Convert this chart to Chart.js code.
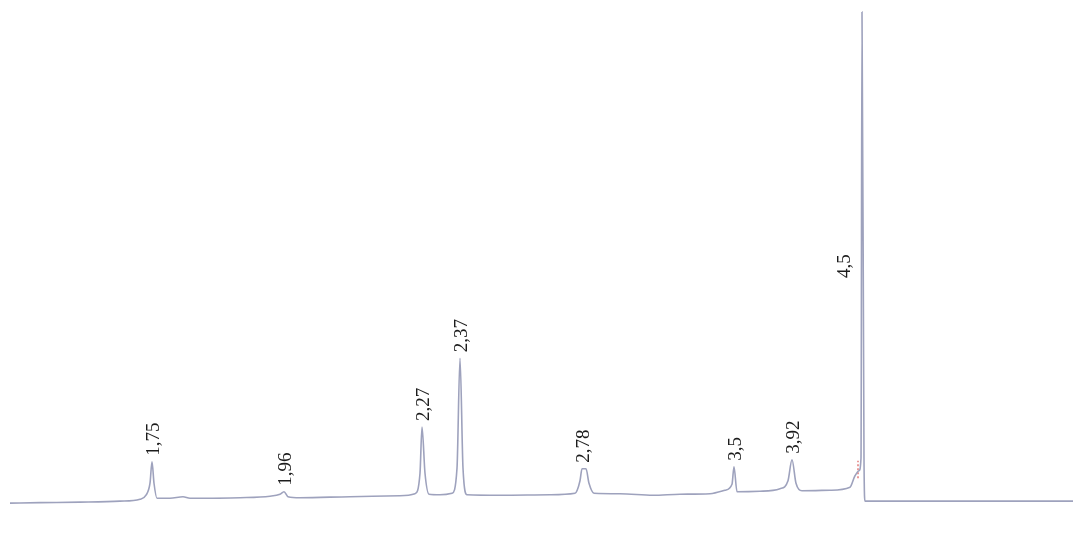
<!DOCTYPE html>
<html>
<head>
<meta charset="utf-8">
<script src="https://cdn.jsdelivr.net/npm/chart.js@4.4.0/dist/chart.umd.min.js"></script>
<style>
    html, body { margin: 0; padding: 0; background: #ffffff; }
    #wrap { width: 1087px; height: 548px; }
</style>
</head>
<body>
<div id="wrap"><canvas id="chromatogramChart" width="1087" height="548"></canvas></div>
<script>
// Trace data (retention position, detector response)
const tracePosition = [1.0, 4.0, 8.0, 12.0, 14.0, 14.6, 15.0, 15.2, 15.4, 15.7, 17.0, 18.3, 19.0, 24.0, 27.0, 28.0, 28.4, 28.8,
    30.0, 35.0, 40.0, 41.5, 42.0, 42.2, 42.5, 42.9, 44.0, 45.2, 45.7, 46.0, 46.3, 46.7, 50.0, 55.0, 57.5, 58.0, 58.2, 58.6,
    58.9, 59.4, 62.0, 65.3, 68.0, 71.0, 72.5, 73.2, 73.4, 73.7, 76.0, 78.0, 78.8, 79.2, 79.6, 80.2, 83.0, 85.0, 85.5, 85.9,
    86.1, 86.2, 86.4, 86.5, 90.0, 100.0, 107.3];
const traceResponse = [-1.0, -0.9, -0.8, -0.6, -0.2, 0.6, 3.0, 7.3, 3.0, 0.0, 0.0, 0.3, 0.0, 0.1, 0.4, 0.8, 1.3, 0.3,
    0.1, 0.3, 0.5, 0.9, 5.0, 14.3, 5.0, 0.8, 0.7, 1.0, 6.0, 28.1, 6.0, 0.7, 0.6, 0.7, 1.0, 3.5, 5.9, 5.9,
    3.0, 1.0, 0.9, 0.6, 0.8, 0.9, 1.6, 2.8, 6.3, 1.3, 1.4, 1.9, 3.5, 7.7, 3.0, 1.5, 1.6, 2.2, 4.5, 5.5,
    8.0, 97.6, 8.0, -0.6, -0.6, -0.6, -0.6];

// Peak labels and where their apex sits on the trace
const peakLabels = ['1,75', '1,96', '2,27', '2,37', '2,78', '3,5', '3,92', '4,5'];
const peakPosition = [15.2, 28.4, 42.2, 46.0, 58.2, 73.4, 79.2, 86.2];

// small red fragment beside the main peak
const redPosition = [85.8, 85.8];
const redResponse = [4.0, 7.5];

const traceData = tracePosition.map((x, i) => ({ x: x, y: traceResponse[i] }));
const redData = redPosition.map((x, i) => ({ x: x, y: redResponse[i] }));

const peakLabelPlugin = {
    id: 'peakLabels',
    afterDatasetsDraw(chart) {
        const ctx = chart.ctx;
        const xs = chart.scales.x;
        const ys = chart.scales.y;
        ctx.save();
        ctx.fillStyle = '#1c1c1c';
        ctx.font = '19px "Liberation Serif", "Times New Roman", serif';
        ctx.textBaseline = 'middle';
        ctx.textAlign = 'left';
        peakLabels.forEach((label, i) => {
            const idx = tracePosition.indexOf(peakPosition[i]);
            const px = xs.getPixelForValue(peakPosition[i]);
            let py = ys.getPixelForValue(traceResponse[idx]);
            let lx = px + 2;
            if (py < 100) {
                // tall peak: label beside the line, half way up
                lx = px - 17;
                py = ys.getPixelForValue(43);
            }
            ctx.save();
            ctx.translate(lx, py - 6);
            ctx.rotate(-Math.PI / 2);
            ctx.fillText(label, 0, 0);
            ctx.restore();
        });
        ctx.restore();
    }
};

const ctx = document.getElementById('chromatogramChart').getContext('2d');
new Chart(ctx, {
    type: 'line',
    data: {
        datasets: [{
            data: traceData,
            borderColor: '#9ea2bd',
            borderWidth: 1.6,
            pointRadius: 0,
            cubicInterpolationMode: 'monotone',
            fill: false
        }, {
            data: redData,
            borderColor: '#e07070',
            borderWidth: 1.4,
            borderDash: [2, 2],
            pointRadius: 0,
            fill: false
        }]
    },
    options: {
        responsive: false,
        animation: false,
        layout: { padding: 0 },
        plugins: {
            legend: { display: false },
            tooltip: { enabled: false }
        },
        scales: {
            x: { type: 'linear', min: 0, max: 108.7, display: false },
            y: { min: -10, max: 100, display: false }
        }
    },
    plugins: [peakLabelPlugin]
});
</script>
</body>
</html>
